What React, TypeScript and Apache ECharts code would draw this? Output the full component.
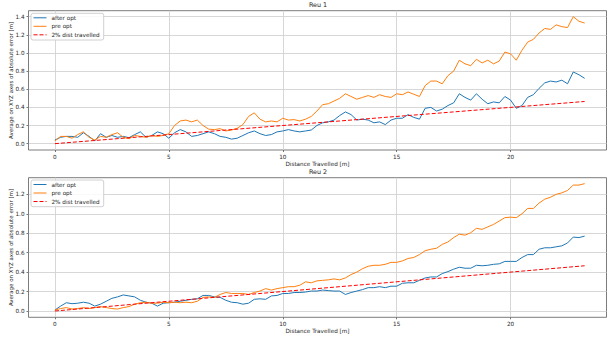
import { useEffect, useRef } from "react";
import * as echarts from "echarts";

const distance = [
  0, 0.25, 0.5, 0.75, 1, 1.25, 1.5, 1.75, 2, 2.25, 2.5, 2.75, 3, 3.25, 3.5, 3.75,
  4, 4.25, 4.5, 4.75, 5, 5.25, 5.5, 5.75, 6, 6.25, 6.5, 6.75, 7, 7.25, 7.5, 7.75,
  8, 8.25, 8.5, 8.75, 9, 9.25, 9.5, 9.75, 10, 10.25, 10.5, 10.75, 11, 11.25, 11.5, 11.75,
  12, 12.25, 12.5, 12.75, 13, 13.25, 13.5, 13.75, 14, 14.25, 14.5, 14.75, 15, 15.25, 15.5, 15.75,
  16, 16.25, 16.5, 16.75, 17, 17.25, 17.5, 17.75, 18, 18.25, 18.5, 18.75, 19, 19.25, 19.5, 19.75,
  20, 20.25, 20.5, 20.75, 21, 21.25, 21.5, 21.75, 22, 22.25, 22.5, 22.75, 23, 23.25,
];

const reu1AfterOpt = [
  0.04, 0.07, 0.08, 0.08, 0.07, 0.12, 0.08, 0.03, 0.11, 0.07, 0.09, 0.07, 0.08, 0.066, 0.1, 0.13,
  0.07, 0.09, 0.13, 0.11, 0.06, 0.12, 0.155, 0.13, 0.08, 0.09, 0.11, 0.13, 0.11, 0.08, 0.07, 0.05,
  0.06, 0.09, 0.12, 0.14, 0.11, 0.09, 0.1, 0.13, 0.14, 0.155, 0.14, 0.13, 0.14, 0.15, 0.2, 0.23,
  0.24, 0.26, 0.31, 0.35, 0.32, 0.26, 0.27, 0.26, 0.23, 0.24, 0.21, 0.26, 0.28, 0.28, 0.32, 0.29,
  0.27, 0.39, 0.4, 0.36, 0.38, 0.42, 0.45, 0.55, 0.51, 0.48, 0.55, 0.49, 0.44, 0.46, 0.45, 0.52,
  0.48, 0.39, 0.42, 0.51, 0.54, 0.61, 0.67, 0.69, 0.68, 0.7, 0.66, 0.79, 0.76, 0.72,
];

const reu1PreOpt = [
  0.03, 0.08, 0.08, 0.06, 0.1, 0.13, 0.07, 0.04, 0.08, 0.07, 0.1, 0.12, 0.07, 0.055, 0.09, 0.08,
  0.07, 0.09, 0.08, 0.09, 0.11, 0.2, 0.25, 0.26, 0.24, 0.26, 0.2, 0.16, 0.155, 0.165, 0.14, 0.15,
  0.17, 0.21, 0.3, 0.34, 0.27, 0.24, 0.25, 0.24, 0.28, 0.26, 0.265, 0.25, 0.27, 0.3, 0.36, 0.43,
  0.44, 0.47, 0.5, 0.55, 0.52, 0.49, 0.51, 0.53, 0.51, 0.54, 0.52, 0.51, 0.55, 0.54, 0.57, 0.545,
  0.52, 0.64, 0.69, 0.69, 0.66, 0.75, 0.8, 0.92, 0.88, 0.86, 0.93, 0.89, 0.92, 0.88, 0.91, 1.01,
  0.99, 0.92, 1.03, 1.12, 1.15, 1.22, 1.27, 1.26, 1.31, 1.29, 1.28, 1.4, 1.35, 1.33,
];

const reu2AfterOpt = [
  0.01, 0.05, 0.085, 0.075, 0.08, 0.09, 0.08, 0.05, 0.07, 0.1, 0.13, 0.145, 0.165, 0.155, 0.145, 0.11,
  0.09, 0.08, 0.05, 0.08, 0.085, 0.09, 0.1, 0.11, 0.12, 0.125, 0.16, 0.16, 0.145, 0.14, 0.11, 0.09,
  0.085, 0.07, 0.08, 0.12, 0.125, 0.12, 0.155, 0.16, 0.18, 0.18, 0.19, 0.19, 0.195, 0.205, 0.205, 0.215,
  0.21, 0.205, 0.205, 0.17, 0.19, 0.205, 0.22, 0.24, 0.24, 0.25, 0.24, 0.255, 0.255, 0.285, 0.29, 0.29,
  0.315, 0.34, 0.35, 0.35, 0.385, 0.405, 0.43, 0.45, 0.44, 0.44, 0.47, 0.465, 0.47, 0.48, 0.485, 0.51,
  0.51, 0.51, 0.55, 0.58, 0.58, 0.635, 0.65, 0.65, 0.66, 0.67, 0.7, 0.76, 0.755, 0.77,
];

const reu2PreOpt = [
  0.01, 0.025, 0.035, 0.02, 0.025, 0.035, 0.025, 0.035, 0.045, 0.035, 0.025, 0.02, 0.035, 0.045, 0.07, 0.085,
  0.09, 0.08, 0.08, 0.09, 0.085, 0.09, 0.085, 0.09, 0.085, 0.1, 0.14, 0.145, 0.14, 0.17, 0.19, 0.18,
  0.18, 0.18, 0.17, 0.19, 0.205, 0.23, 0.215, 0.23, 0.24, 0.25, 0.25, 0.265, 0.3, 0.29, 0.31, 0.315,
  0.32, 0.33, 0.32, 0.34, 0.375, 0.4, 0.435, 0.46, 0.47, 0.47, 0.48, 0.5, 0.5, 0.515, 0.54, 0.55,
  0.58, 0.62, 0.635, 0.645, 0.685, 0.71, 0.755, 0.79, 0.78, 0.805, 0.85, 0.84, 0.865, 0.89, 0.925, 0.96,
  0.965, 0.96, 1.0, 1.055, 1.055, 1.11, 1.15, 1.17, 1.2, 1.215, 1.24, 1.295, 1.295, 1.31,
];

const refDistance = [0, 23.25];
const reu1Ref = [0, 0.465];
const reu2Ref = [0, 0.465];

const xTicks = [0, 5, 10, 15, 20];
const reu1YTicks = [0, 0.2, 0.4, 0.6, 0.8, 1.0, 1.2, 1.4];
const reu2YTicks = [0, 0.2, 0.4, 0.6, 0.8, 1.0, 1.2];
const titles = ["Reu 1", "Reu 2"];
const seriesNames = ["after opt", "pre opt", "2% dist travelled"];
const xName = "Distance Travelled [m]";
const yName = "Average on XYZ axes of absolute error [m]";

const FONT = "DejaVu Sans";
const TXT = "#262626";
const BLUE = "#1f77b4";
const ORANGE = "#ff7f0e";
const RED = "#ff0000";
const seriesColors = [BLUE, ORANGE, RED];

const zip = (xs: number[], ys: number[]) => xs.map((x, i) => [x, ys[i]]);

export default function App() {
  const ref = useRef<HTMLDivElement>(null);
  useEffect(() => {
    if (!ref.current) return;
    const chart = echarts.init(ref.current, undefined, { renderer: "svg" });

    const grids = [
      { left: 28.5, top: 10.7, width: 578, height: 139.3 },
      { left: 28.5, top: 177.7, width: 578, height: 139.6 },
    ];
    const yRanges = [
      { min: -0.07, max: 1.466, ticks: reu1YTicks },
      { min: -0.065, max: 1.371, ticks: reu2YTicks },
    ];

    const xAxis = grids.map((_, i) => ({
      type: "value",
      gridIndex: i,
      min: -1.16,
      max: 24.21,
      name: xName,
      nameLocation: "middle",
      nameGap: 11,
      nameMoveOverlap: false,
      nameTextStyle: { fontFamily: FONT, fontSize: 5.7, color: TXT },
      axisLine: { show: false, onZero: false },
      axisTick: { show: true, length: 2, customValues: xTicks, lineStyle: { color: "#555", width: 0.8 } },
      axisLabel: {
        customValues: xTicks,
        fontFamily: FONT,
        fontSize: 5.7,
        color: TXT,
        margin: 3.5,
        formatter: (v: number) => String(v),
      },
      splitLine: { show: true, lineStyle: { color: "#d3d3d3", width: 0.9 } },
    }));

    const yAxis = grids.map((_, i) => ({
      type: "value",
      gridIndex: i,
      min: yRanges[i].min,
      max: yRanges[i].max,
      name: yName,
      nameLocation: "middle",
      nameGap: 15,
      nameMoveOverlap: false,
      nameTextStyle: { fontFamily: FONT, fontSize: 5.5, color: TXT },
      axisLine: { show: false, onZero: false },
      axisTick: { show: true, length: 2, customValues: yRanges[i].ticks, lineStyle: { color: "#555", width: 0.8 } },
      axisLabel: {
        customValues: yRanges[i].ticks,
        fontFamily: FONT,
        fontSize: 5.7,
        color: TXT,
        margin: 4,
        formatter: (v: number) => v.toFixed(1),
      },
      splitLine: { show: true, lineStyle: { color: "#d3d3d3", width: 0.9 } },
    }));

    const seriesFor = (i: number, after: number[], pre: number[], refv: number[]) => [
      {
        name: seriesNames[0],
        type: "line",
        xAxisIndex: i,
        yAxisIndex: i,
        data: zip(distance, after),
        symbol: "none",
        showSymbol: false,
        silent: true,
        lineStyle: { color: BLUE, width: 1 },
        itemStyle: { color: BLUE },
      },
      {
        name: seriesNames[1],
        type: "line",
        xAxisIndex: i,
        yAxisIndex: i,
        data: zip(distance, pre),
        symbol: "none",
        showSymbol: false,
        silent: true,
        lineStyle: { color: ORANGE, width: 1 },
        itemStyle: { color: ORANGE },
      },
      {
        name: seriesNames[2],
        type: "line",
        xAxisIndex: i,
        yAxisIndex: i,
        data: zip(refDistance, refv),
        symbol: "none",
        showSymbol: false,
        silent: true,
        lineStyle: { color: RED, width: 1, type: [4, 2] },
        itemStyle: { color: RED },
      },
    ];

    const legendTops = [13.3, 180];
    const legend = legendTops.map((t) => ({
      data: seriesNames.map((name, k) => ({
        name,
        lineStyle: {
          color: seriesColors[k],
          width: 1,
          type: k === 2 ? [4, 2] : "solid",
        },
      })),
      orient: "vertical",
      left: 31,
      top: t,
      padding: [1, 4, 1.7, 2],
      itemWidth: 13,
      itemHeight: 5,
      itemGap: 1.5,
      selectedMode: false,
      itemStyle: { color: "rgba(0,0,0,0)", borderWidth: 0, opacity: 0 },
      lineStyle: { width: 1 },
      textStyle: { fontFamily: FONT, fontSize: 5.7, color: TXT, lineHeight: 7 },
      backgroundColor: "rgba(255,255,255,0.85)",
      borderColor: "#d0d0d0",
      borderWidth: 1,
      borderRadius: 2,
    }));

    const titleYs = [4.7, 172.3];
    const graphic = titleYs.map((y, i) => ({
      type: "text",
      x: 318,
      y,
      silent: true,
      style: {
        text: titles[i],
        fill: TXT,
        font: `6.4px "${FONT}"`,
        align: "center",
        verticalAlign: "middle",
      },
    }));

    chart.setOption({
      animation: false,
      backgroundColor: "#ffffff",
      grid: grids.map((g) => ({
        ...g,
        show: true,
        borderColor: "#5a5a5a",
        borderWidth: 0.8,
        backgroundColor: "transparent",
        containLabel: false,
        outerBoundsMode: "none",
      })),
      xAxis,
      yAxis,
      legend,
      graphic,
      series: [
        ...seriesFor(0, reu1AfterOpt, reu1PreOpt, reu1Ref),
        ...seriesFor(1, reu2AfterOpt, reu2PreOpt, reu2Ref),
      ],
    });
    return () => chart.dispose();
  }, []);

  return (
    <div
      ref={ref}
      style={{ position: "fixed", left: 0, top: 0, width: 608, height: 338, background: "#fff" }}
    />
  );
}
